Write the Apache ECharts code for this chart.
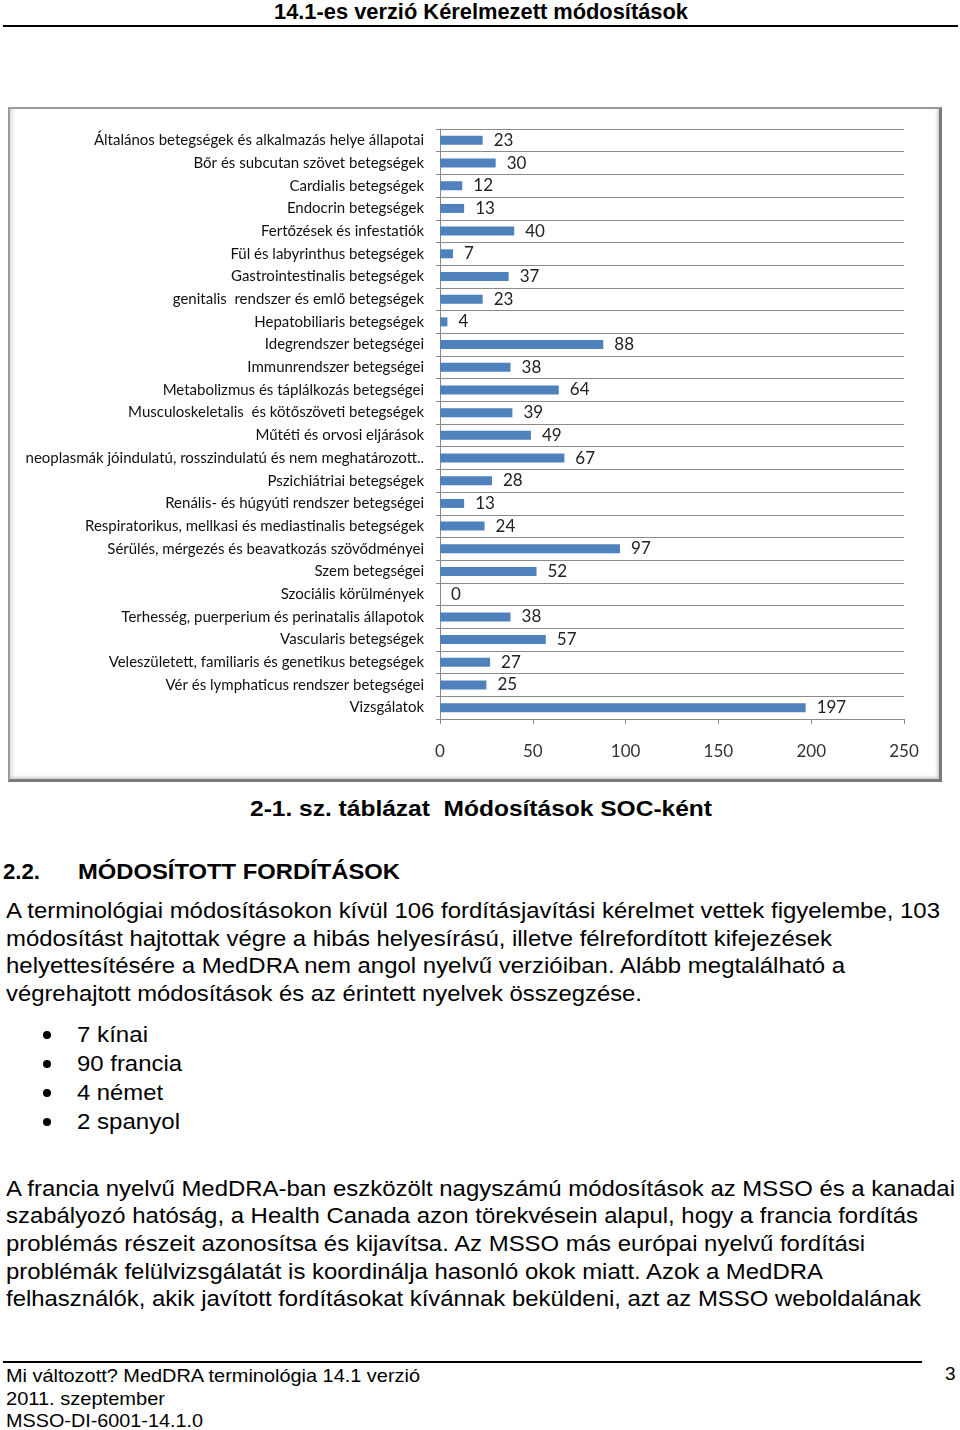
<!DOCTYPE html>
<html>
<head>
<meta charset="utf-8">
<script src="https://cdn.jsdelivr.net/npm/echarts@6/dist/echarts.min.js"></script>
<style>
  html, body { margin: 0; padding: 0; background: #fff; }
  body { width: 960px; height: 1430px; position: relative; overflow: hidden; font-family: "Liberation Sans", Arial, sans-serif; color: #000; }
  .t { position: absolute; white-space: pre; transform-origin: 0 50%; }
  .hd { font-weight: bold; font-size: 22px; line-height: 26px; }
  .bd { font-size: 21.5px; line-height: 28px; }
  .ft { font-size: 19px; line-height: 22px; }
  .rule { position: absolute; background: #000; }
  #chart { position: absolute; left: 8px; top: 107px; width: 934px; height: 675px; }
  #frame { position: absolute; left: 8px; top: 107px; width: 934px; height: 675px; box-sizing: border-box;
           border-top: 2px solid #9a9a9a; border-left: 2px solid #9a9a9a; border-right: 3px solid #7a7a7a; border-bottom: 3px solid #7a7a7a;
           box-shadow: inset 4px 0 4px -2px #d8d8d8, inset -3px -3px 3px -1px #cfcfcf; pointer-events: none; }
  .bul { position: absolute; width: 8px; height: 8px; border-radius: 50%; background: #000; }
</style>
</head>
<body>
<div class="t hd" data-w="414" style="left:274px; top:-1px;">14.1-es verzió Kérelmezett módosítások</div>
<div class="rule" style="left:3px; top:25px; width:955px; height:2px;"></div>

<div id="chart"></div>
<div id="frame"></div>

<div class="t hd" data-w="462" style="left:250px; top:796px;">2-1. sz. táblázat  Módosítások SOC-ként</div>
<div class="t hd" data-w="37" style="left:3px; top:859px;">2.2.</div>
<div class="t hd" data-w="322" style="left:78px; top:859px;">MÓDOSÍTOTT FORDÍTÁSOK</div>

<div class="t bd" data-w="934" style="left:6px; top:897px;">A terminológiai módosításokon kívül 106 fordításjavítási kérelmet vettek figyelembe, 103</div>
<div class="t bd" data-w="826" style="left:6px; top:925px;">módosítást hajtottak végre a hibás helyesírású, illetve félrefordított kifejezések</div>
<div class="t bd" data-w="839" style="left:6px; top:952px;">helyettesítésére a MedDRA nem angol nyelvű verzióiban. Alább megtalálható a</div>
<div class="t bd" data-w="636" style="left:6px; top:980px;">végrehajtott módosítások és az érintett nyelvek összegzése.</div>

<div class="bul" style="left:43px; top:1031px;"></div>
<div class="t bd" data-w="71" style="left:77px; top:1021px;">7 kínai</div>
<div class="bul" style="left:43px; top:1060px;"></div>
<div class="t bd" data-w="105" style="left:77px; top:1050px;">90 francia</div>
<div class="bul" style="left:43px; top:1089px;"></div>
<div class="t bd" data-w="86" style="left:77px; top:1079px;">4 német</div>
<div class="bul" style="left:43px; top:1118px;"></div>
<div class="t bd" data-w="103" style="left:77px; top:1108px;">2 spanyol</div>

<div class="t bd" data-w="949" style="left:6px; top:1175px;">A francia nyelvű MedDRA-ban eszközölt nagyszámú módosítások az MSSO és a kanadai</div>
<div class="t bd" data-w="912" style="left:6px; top:1202px;">szabályozó hatóság, a Health Canada azon törekvésein alapul, hogy a francia fordítás</div>
<div class="t bd" data-w="859" style="left:6px; top:1230px;">problémás részeit azonosítsa és kijavítsa. Az MSSO más európai nyelvű fordítási</div>
<div class="t bd" data-w="817" style="left:6px; top:1258px;">problémák felülvizsgálatát is koordinálja hasonló okok miatt. Azok a MedDRA</div>
<div class="t bd" data-w="915" style="left:6px; top:1285px;">felhasználók, akik javított fordításokat kívánnak beküldeni, azt az MSSO weboldalának</div>

<div class="rule" style="left:3px; top:1361px; width:919px; height:1.5px;"></div>
<div class="t ft" data-w="414" style="left:6px; top:1365px;">Mi változott? MedDRA terminológia 14.1 verzió</div>
<div class="t ft" data-w="159" style="left:6px; top:1388px;">2011. szeptember</div>
<div class="t ft" data-w="197" style="left:6px; top:1410px;">MSSO-DI-6001-14.1.0</div>
<div class="t ft" style="left:945px; top:1363px;">3</div>

<script>
// ---- data ----
const categories = [
  "Általános betegségek és alkalmazás helye állapotai",
  "Bőr és subcutan szövet betegségek",
  "Cardialis betegségek",
  "Endocrin betegségek",
  "Fertőzések és infestatiók",
  "Fül és labyrinthus betegségek",
  "Gastrointestinalis betegségek",
  "genitalis  rendszer és emlő betegségek",
  "Hepatobiliaris betegségek",
  "Idegrendszer betegségei",
  "Immunrendszer betegségei",
  "Metabolizmus és táplálkozás betegségei",
  "Musculoskeletalis  és kötőszöveti betegségek",
  "Műtéti és orvosi eljárások",
  "neoplasmák jóindulatú, rosszindulatú és nem meghatározott..",
  "Pszichiátriai betegségek",
  "Renális- és húgyúti rendszer betegségei",
  "Respiratorikus, mellkasi és mediastinalis betegségek",
  "Sérülés, mérgezés és beavatkozás szövődményei",
  "Szem betegségei",
  "Szociális körülmények",
  "Terhesség, puerperium és perinatalis állapotok",
  "Vascularis betegségek",
  "Veleszületett, familiaris és genetikus betegségek",
  "Vér és lymphaticus rendszer betegségei",
  "Vizsgálatok"
];
const values = [23, 30, 12, 13, 40, 7, 37, 23, 4, 88, 38, 64, 39, 49, 67, 28, 13, 24, 97, 52, 0, 38, 57, 27, 25, 197];
const xTicks = { min: 0, max: 250, interval: 50 };

// ---- fit text lines to measured widths ----
document.querySelectorAll('[data-w]').forEach(el => {
  const target = parseFloat(el.getAttribute('data-w'));
  const w = el.getBoundingClientRect().width;
  if (w > 0) el.style.transform = 'scaleX(' + (target / w).toFixed(4) + ')';
});

// ---- chart ----
const chart = echarts.init(document.getElementById('chart'), null, { renderer: 'canvas' });
const gridColor = '#8a8a8a';
chart.setOption({
  animation: false,
  backgroundColor: 'transparent',
  grid: { left: 432, top: 22, width: 464, height: 590, containLabel: false },
  xAxis: {
    type: 'value',
    min: xTicks.min, max: xTicks.max, interval: xTicks.interval,
    axisLine: { show: true, lineStyle: { color: gridColor, width: 1 } },
    axisTick: { show: true, length: 5, inside: false, lineStyle: { color: gridColor } },
    axisLabel: { margin: 24, fontFamily: 'Lato, "Open Sans", sans-serif', fontSize: 17, color: '#333' },
    splitLine: { show: false }
  },
  yAxis: {
    type: 'category',
    data: categories,
    inverse: true,
    boundaryGap: true,
    axisLine: { show: true, lineStyle: { color: gridColor, width: 1 } },
    axisTick: { show: true, length: 4, alignWithLabel: false, lineStyle: { color: gridColor } },
    axisLabel: { margin: 16, fontFamily: 'Lato, "Open Sans", sans-serif', fontSize: 15, color: '#111', interval: 0 },
    splitLine: { show: true, interval: 0, lineStyle: { color: gridColor, width: 1 } }
  },
  series: [{
    type: 'bar',
    data: values,
    barWidth: 9,
    itemStyle: { color: '#4F81BD' },
    label: {
      show: true, position: 'right', distance: 11,
      fontFamily: 'Lato, "Open Sans", sans-serif', fontSize: 17, color: '#222'
    }
  }]
});
</script>
</body>
</html>
